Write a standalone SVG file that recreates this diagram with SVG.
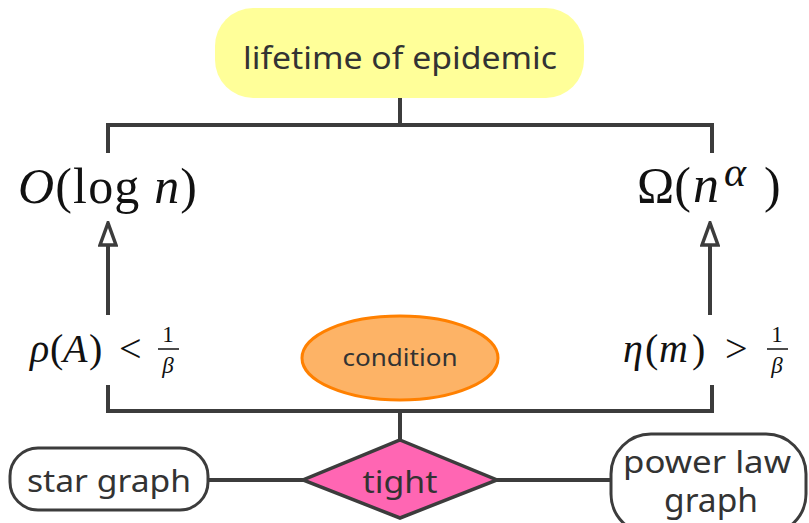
<svg xmlns="http://www.w3.org/2000/svg" width="809" height="523" viewBox="0 0 809 523">
<defs>
<marker id="open" viewBox="0 0 26 20" refX="24" refY="10" markerWidth="26" markerHeight="20" markerUnits="userSpaceOnUse" orient="auto">
<path d="M24 10 L2 2 L2 18 Z" fill="#fff" stroke="#3c3c3c" stroke-width="3.5" stroke-linejoin="miter"/>
</marker>
<style>
.ln{fill:none;stroke:#3c3c3c;stroke-width:4}
.lbl{font-family:"Noto Sans","Open Sans",sans-serif;fill:#333;text-anchor:middle}
.m{font-family:"Liberation Serif","DejaVu Serif",serif;fill:#111}
.i{font-style:italic}
</style>
</defs>
<rect width="809" height="523" fill="#fff"/>
<g id="connectors">
<polyline class="ln" points="400,98 400,125"/>
<polyline class="ln" points="108,153 108,125 712,125 712,153"/>
<polyline class="ln" points="108,385 108,411 712,411 712,385"/>
<polyline class="ln" points="400,411 400,440"/>
<line class="ln" x1="208" y1="480" x2="303" y2="480"/>
<line class="ln" x1="497" y1="480" x2="611" y2="480"/>
<line class="ln" x1="108" y1="315" x2="108" y2="223" marker-end="url(#open)"/>
<line class="ln" x1="710" y1="315" x2="710" y2="223" marker-end="url(#open)"/>
</g>
<g id="lifetime">
<rect x="215" y="8" width="369" height="90" rx="38" fill="#ffff99"/>
<text class="lbl" x="400" y="69" font-size="31" textLength="314" lengthAdjust="spacingAndGlyphs">lifetime of epidemic</text>
</g>
<g id="ologn">
<text class="m" x="18" y="203" font-size="50" textLength="179" lengthAdjust="spacing"><tspan class="i">O</tspan>(log <tspan class="i">n</tspan>)</text>
</g>
<g id="omega">
<text class="m" y="202" font-size="50"><tspan x="637">Ω(</tspan><tspan class="i" x="693" font-size="52">n</tspan><tspan class="i" x="724" y="186" font-size="42">α</tspan><tspan x="764" y="202">)</tspan></text>
</g>
<g id="rho">
<text class="m" y="362" font-size="40"><tspan class="i" x="30">ρ</tspan><tspan x="50">(</tspan><tspan class="i" x="63">A</tspan><tspan x="89">)</tspan><tspan x="119">&lt;</tspan></text>
<text class="m" x="168" y="342" font-size="23" text-anchor="middle">1</text>
<line x1="158" y1="349" x2="179" y2="349" stroke="#111" stroke-width="1.5"/>
<text class="m i" x="168" y="373" font-size="23" text-anchor="middle">β</text>
</g>
<g id="eta">
<text class="m" y="362" font-size="40"><tspan class="i" x="623">η</tspan><tspan x="645">(</tspan><tspan class="i" x="659">m</tspan><tspan x="692">)</tspan><tspan x="725">&gt;</tspan></text>
<text class="m" x="777" y="342" font-size="23" text-anchor="middle">1</text>
<line x1="767" y1="349" x2="788" y2="349" stroke="#111" stroke-width="1.5"/>
<text class="m i" x="777" y="373" font-size="23" text-anchor="middle">β</text>
</g>
<g id="condition">
<ellipse cx="400" cy="358" rx="98" ry="42" fill="#fdb366" stroke="#ff8000" stroke-width="3"/>
<text class="lbl" x="400" y="366" font-size="23" textLength="115" lengthAdjust="spacingAndGlyphs">condition</text>
</g>
<g id="tight">
<polygon points="400,440 497,480 400,518 303,480" fill="#ff66b3" stroke="#3c3c3c" stroke-width="3.5"/>
<text class="lbl" x="400" y="493" font-size="31" textLength="75" lengthAdjust="spacingAndGlyphs">tight</text>
</g>
<g id="star">
<rect x="10" y="448" width="198" height="62" rx="28" fill="#fff" stroke="#3c3c3c" stroke-width="3"/>
<text class="lbl" x="109" y="492" font-size="31" textLength="164" lengthAdjust="spacingAndGlyphs">star graph</text>
</g>
<g id="powerlaw">
<rect x="611" y="434" width="195" height="100" rx="40" fill="#fff" stroke="#3c3c3c" stroke-width="3"/>
<text class="lbl" x="707" y="473" font-size="31" textLength="168" lengthAdjust="spacingAndGlyphs">power law</text>
<text class="lbl" x="711" y="512" font-size="32" textLength="94" lengthAdjust="spacingAndGlyphs">graph</text>
</g>
</svg>
